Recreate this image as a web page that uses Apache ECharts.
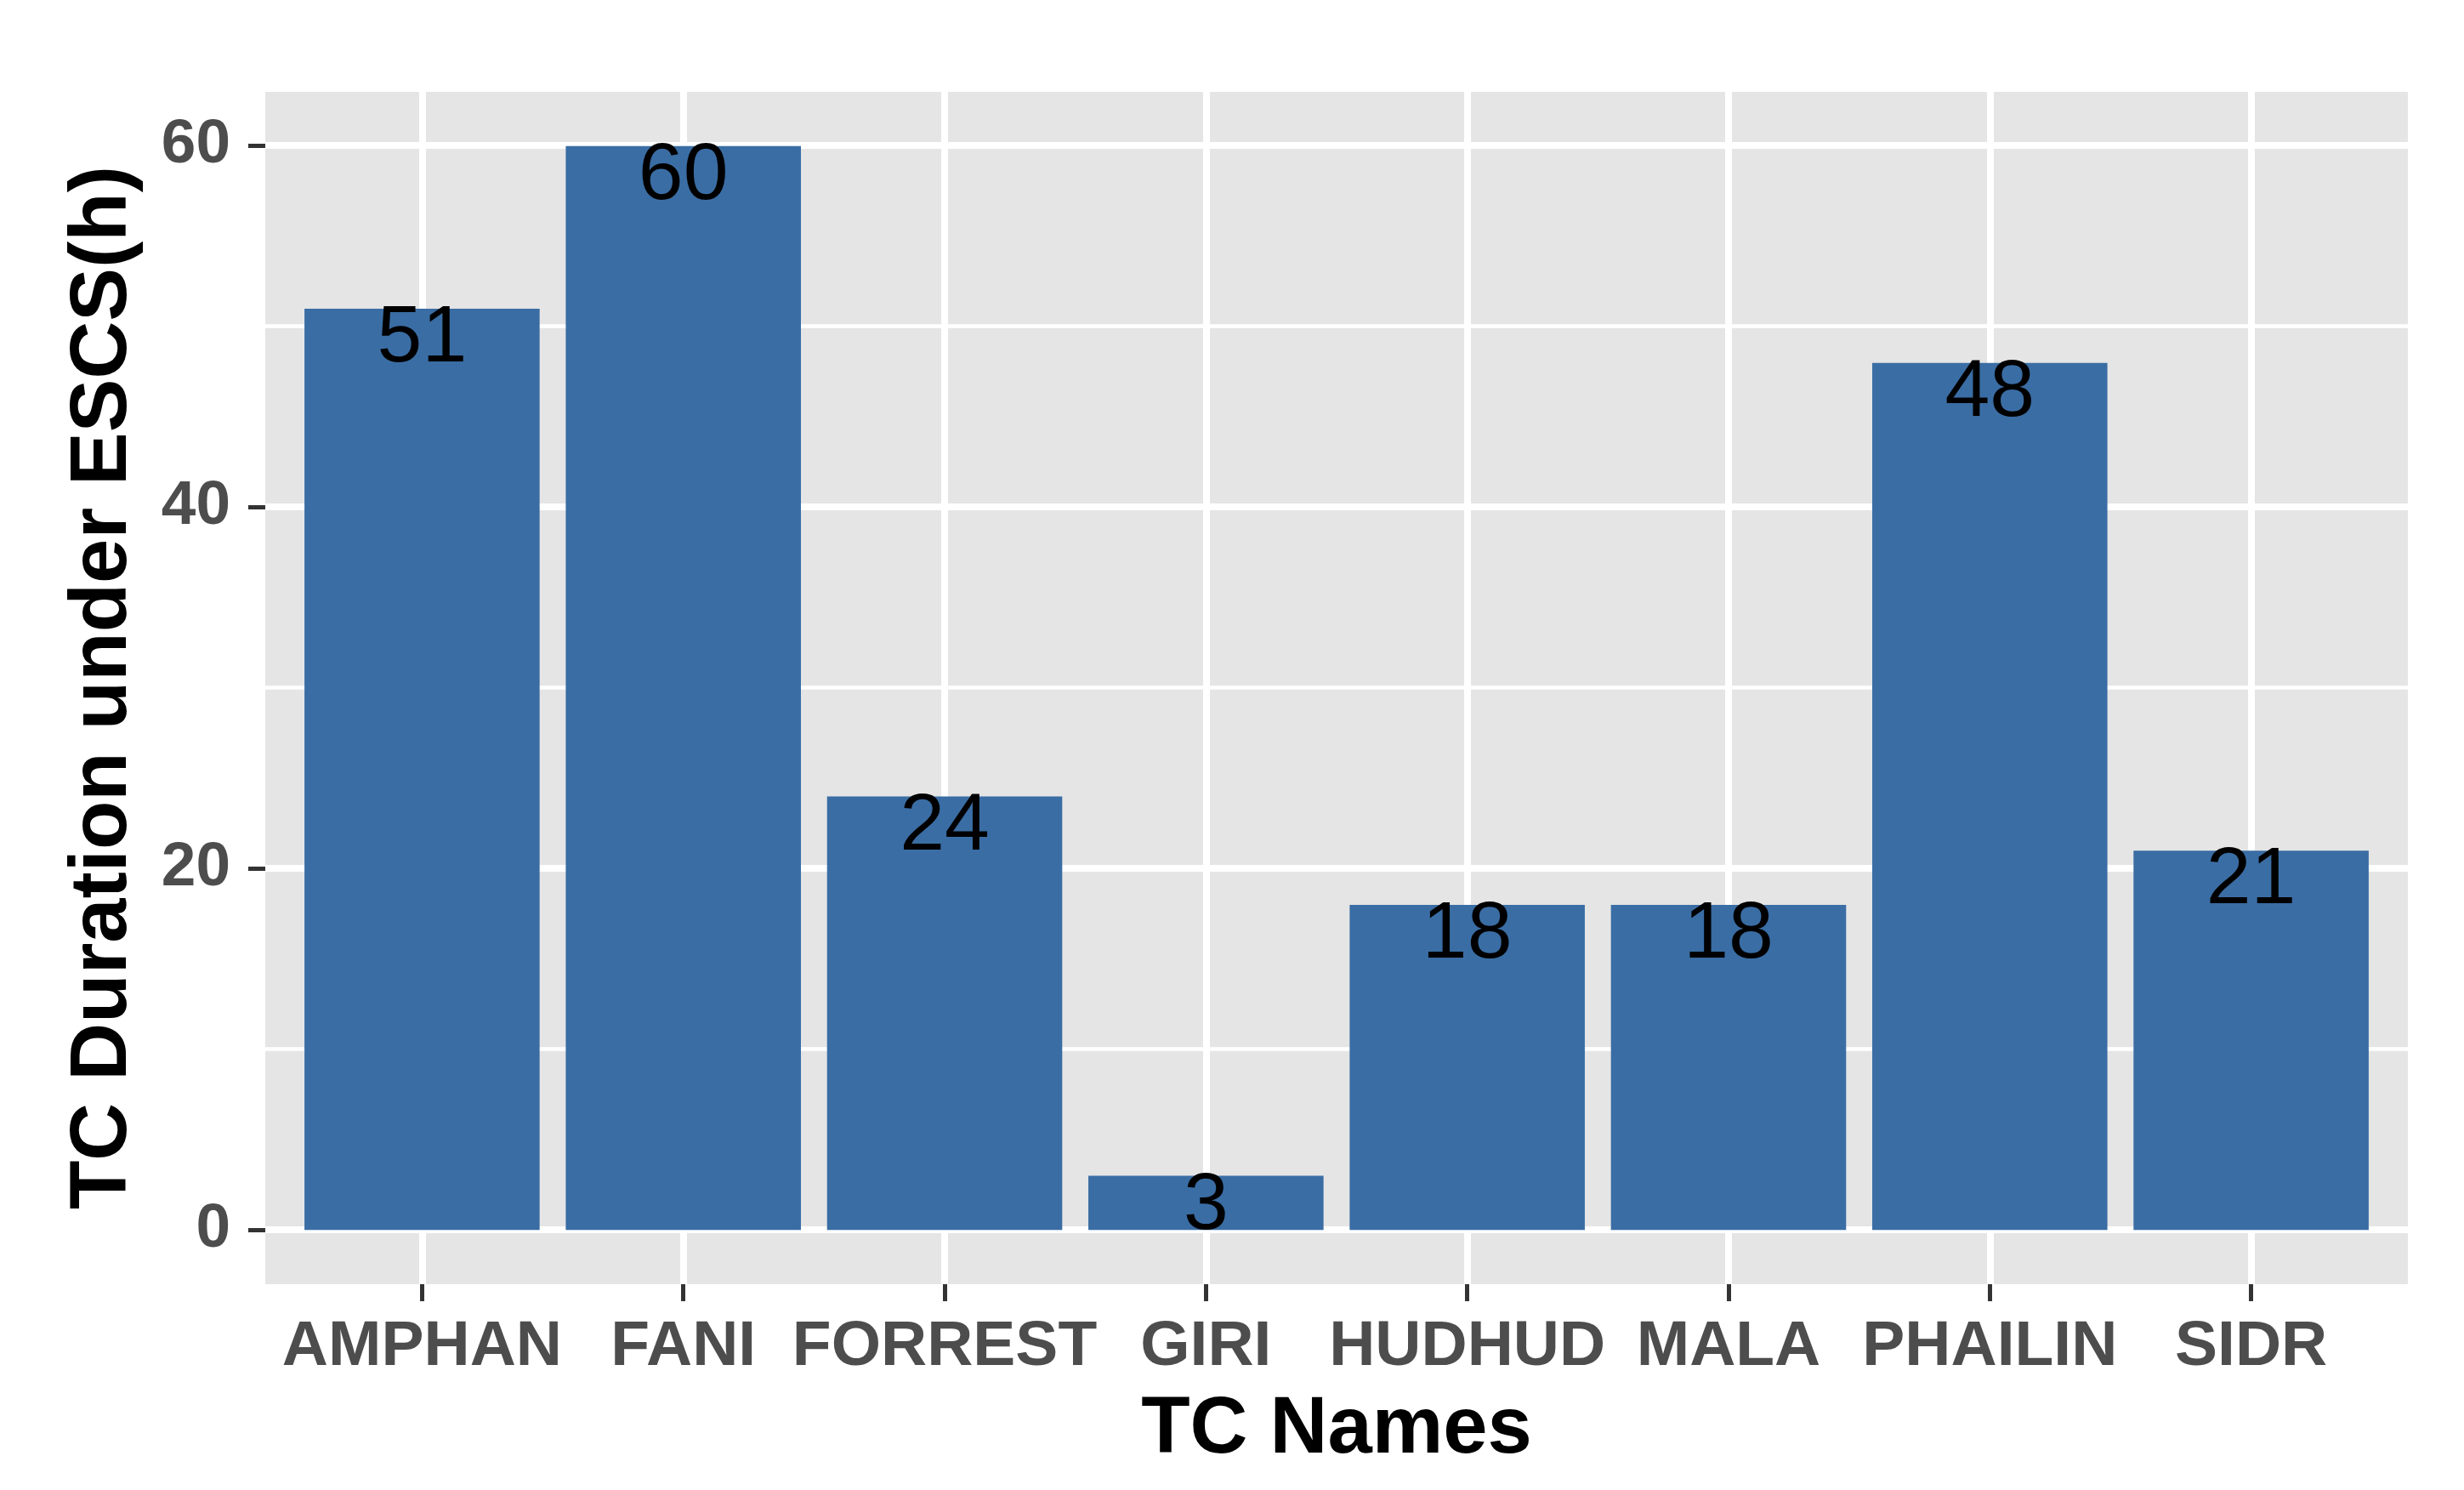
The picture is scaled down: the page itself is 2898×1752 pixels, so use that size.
<!DOCTYPE html>
<html>
<head>
<meta charset="utf-8">
<script src="https://cdn.jsdelivr.net/npm/echarts@6/dist/echarts.min.js"></script>
<style>
  html,body{margin:0;padding:0;background:#fff;}
  #chart{width:2898px;height:1752px;}
</style>
</head>
<body>
<div id="chart"></div>
<script>
// ==================== DATA ====================
const tcNames=['AMPHAN','FANI','FORREST','GIRI','HUDHUD','MALA','PHAILIN','SIDR'];
const durations=[51,60,24,3,18,18,48,21];

// ==================== LAYOUT ====================
const W=2898, H=1752;
const panel={left:312,right:2832,top:108,bottom:1510};
const y0=1446, y60=171;               // pixel rows of value 0 and 60
const band=(panel.right-panel.left)/8.2;   // ggplot discrete expansion 0.6 each side
const c0=panel.left+0.6*band, c7=panel.right-0.6*band;
const font='"Liberation Sans", Arial, sans-serif';
const barC='#3A6DA4', gridC='#ffffff', panelBg='#E5E5E5';

const chart=echarts.init(document.getElementById('chart'),null,{renderer:'canvas'});
chart.setOption({
  backgroundColor:'#fff',
  animation:false,
  grid:[
    // panel background
    {left:panel.left,right:W-panel.right,top:panel.top,bottom:H-panel.bottom,show:true,backgroundColor:panelBg,borderWidth:0},
    // horizontal gridlines + y ticks (0..60)
    {left:panel.left,right:W-panel.right,top:y60,bottom:H-y0},
    // vertical gridlines + x ticks at category centres
    {left:c0,right:W-c7,top:panel.top,bottom:H-panel.bottom},
    // bars: bands of width 'band' (y range -3..63)
    {left:c0-band/2,right:W-(c7+band/2),top:panel.top,bottom:H-panel.bottom},
  ],
  xAxis:[
    {type:'category',gridIndex:0,data:tcNames,show:false},
    {type:'category',gridIndex:1,data:tcNames,show:false},
    {type:'category',gridIndex:2,data:tcNames,boundaryGap:false,
      axisLine:{show:false},
      axisTick:{show:true,length:20,lineStyle:{color:'#333',width:5}},
      splitLine:{show:true,lineStyle:{color:gridC,width:8}},
      axisLabel:{show:true,margin:37,color:'#4D4D4D',fontFamily:font,fontWeight:'bold',fontSize:75,interval:0},
      name:'TC Names',nameLocation:'middle',nameGap:125,
      nameTextStyle:{color:'#000',fontFamily:font,fontWeight:'bold',fontSize:94}},
    {type:'category',gridIndex:3,data:tcNames,show:false},
  ],
  yAxis:[
    {type:'value',gridIndex:0,show:false,splitLine:{show:false}},
    {type:'value',gridIndex:1,min:0,max:60,interval:20,
      axisLine:{show:false},
      axisTick:{show:true,length:20,lineStyle:{color:'#333',width:5}},
      axisLabel:{show:true,margin:41,color:'#4D4D4D',fontFamily:font,fontWeight:'bold',fontSize:73},
      splitLine:{show:true,lineStyle:{color:gridC,width:8}},
      minorTick:{show:false,splitNumber:2},
      minorSplitLine:{show:true,lineStyle:{color:gridC,width:4.5}},
      name:'TC Duration under ESCS(h)',nameLocation:'middle',nameGap:143,
      nameTextStyle:{color:'#000',fontFamily:font,fontWeight:'bold',fontSize:94}},
    {type:'value',gridIndex:2,show:false,splitLine:{show:false}},
    {type:'value',gridIndex:3,min:-3,max:63,show:false,splitLine:{show:false}},
  ],
  series:[{
    type:'bar',xAxisIndex:3,yAxisIndex:3,data:durations,barWidth:'90%',z:5,
    itemStyle:{color:barC},
    label:{show:true,position:['50%',36],align:'center',verticalAlign:'middle',
      color:'#000',fontFamily:font,fontSize:95,formatter:p=>String(p.value)}
  }]
});
</script>
</body>
</html>
